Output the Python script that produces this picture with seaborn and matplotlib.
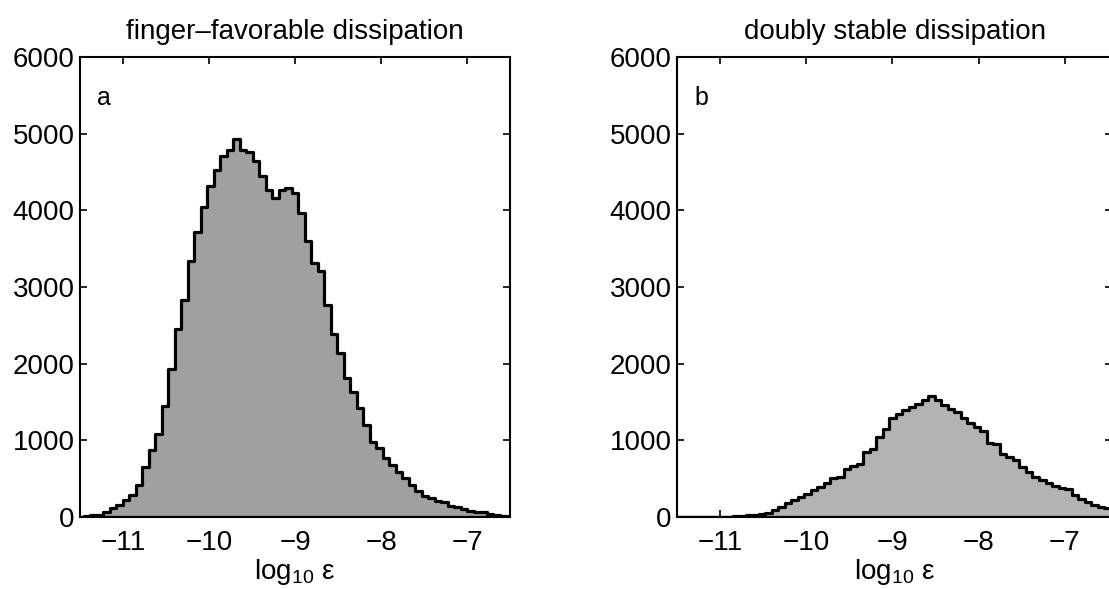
import matplotlib
matplotlib.use('Agg')
import matplotlib.pyplot as plt
import numpy as np
import pandas as pd
import seaborn as sns


# histogram bins (log10 of dissipation), same grid for both panels
bin_start = -11.534
bin_width = 0.0756

finger_counts = [5, 8, 20, 28, 66, 118, 154, 219, 285, 417,
                 649, 868, 1088, 1447, 1925, 2452, 2833, 3338, 3715, 4039,
                 4311, 4522, 4706, 4785, 4925, 4790, 4760, 4645, 4443, 4259,
                 4155, 4270, 4290, 4224, 3960, 3595, 3316, 3206, 2768, 2382,
                 2140, 1811, 1627, 1417, 1206, 978, 904, 772, 684, 583,
                 509, 421, 333, 276, 246, 215, 190, 150, 125, 100,
                 80, 68, 62, 45, 30, 15, 8]

stable_counts = [2, 2, 2, 2, 3, 3, 4, 5, 6, 8,
                 12, 20, 30, 38, 50, 91, 135, 178, 222, 257,
                 300, 352, 387, 439, 504, 526, 622, 665, 685, 845,
                 885, 1045, 1150, 1285, 1340, 1390, 1430, 1478, 1520, 1580,
                 1525, 1462, 1412, 1365, 1286, 1221, 1169, 1125, 969, 952,
                 821, 786, 743, 656, 591, 526, 482, 439, 404, 374,
                 361, 287, 230, 200, 156, 126, 113]

titles = ['finger\u2013favorable dissipation', 'doubly stable dissipation']
panel_tags = ['a', 'b']
x_ticks = [-11, -10, -9, -8, -7]
y_ticks = [0, 1000, 2000, 3000, 4000, 5000, 6000]
fill_colors = ['#a0a0a0', '#b3b3b3']


sns.set_style('ticks')
plt.rcParams['font.family'] = ['Liberation Sans', 'DejaVu Sans']
plt.rcParams['mathtext.fontset'] = 'custom'
plt.rcParams['mathtext.rm'] = 'Liberation Sans'
plt.rcParams['mathtext.it'] = 'Liberation Sans:italic'
plt.rcParams['text.color'] = 'black'
plt.rcParams['axes.labelcolor'] = 'black'


def draw_panel(ax, counts, title, tag, color, x_right):
    n = len(counts)
    edges = bin_start + bin_width * np.arange(n + 1)
    df = pd.DataFrame({'center': edges[:-1] + bin_width / 2,
                       'count': counts})
    sns.histplot(data=df, x='center', weights='count', bins=list(edges),
                 element='step', fill=True, color=color, edgecolor='black',
                 linewidth=2.3, alpha=1, ax=ax)
    ax.set_xlim(-11.5, x_right)
    ax.set_ylim(0, 6000)
    ax.set_xticks(x_ticks)
    ax.set_xticklabels(['\u2212' + str(abs(t)) for t in x_ticks])
    ax.set_yticks(y_ticks)
    ax.tick_params(direction='in', top=True, right=True, length=5, width=1.2,
                   labelsize=20, colors='black')
    ax.tick_params(axis='x', pad=9)
    ax.tick_params(axis='y', pad=4)
    for s in ax.spines.values():
        s.set_linewidth(1.5)
        s.set_color('black')
    ax.set_ylabel('')
    ax.set_xlabel('log$_{10}$ \u03b5', fontsize=20, labelpad=1)
    ax.set_title(title, fontsize=20, pad=13)
    ax.text(-11.22, 5460, tag, fontsize=18, ha='center', va='center')


fig = plt.figure(figsize=(11.09, 5.89), dpi=100)
ax1 = fig.add_axes([80 / 1109, 72 / 589, 430 / 1109, 460 / 589])
ax2 = fig.add_axes([677 / 1109, 72 / 589, 435 / 1109, 460 / 589])

draw_panel(ax1, finger_counts, titles[0], panel_tags[0], fill_colors[0], -6.5)
draw_panel(ax2, stable_counts, titles[1], panel_tags[1], fill_colors[1],
           -11.5 + 435 / 86.2)

fig.savefig('out.png', dpi=100)
